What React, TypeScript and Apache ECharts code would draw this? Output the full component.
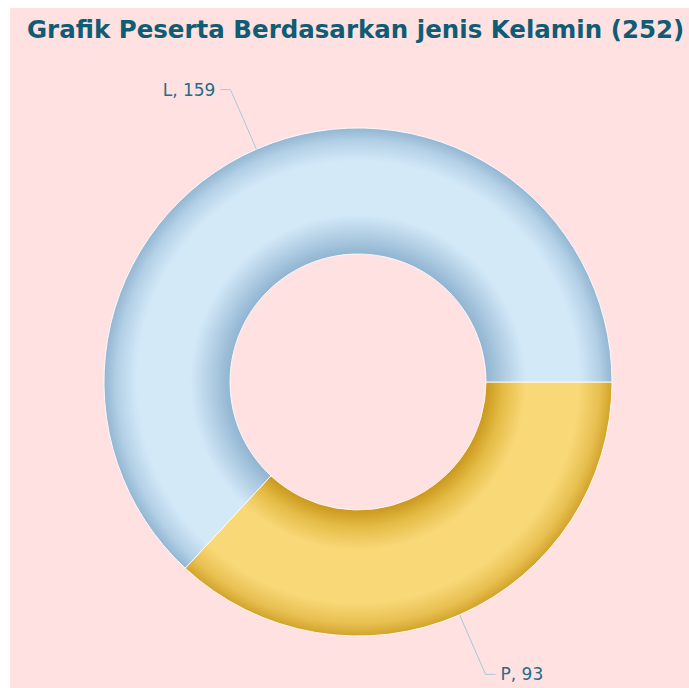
import React, { useEffect, useRef } from "react";
import * as echarts from "echarts";

const titleText = "Grafik Peserta Berdasarkan jenis Kelamin (252)";
const categories = ["P", "L"];
const values = [93, 159];

const CX = 348;
const CY = 374;
const R_OUT = 254;
const R_IN = 128;

function ringGradient(dark: string, mid: string, light: string, midOuter: string, darkOuter: string) {
  return {
    type: "radial",
    x: CX,
    y: CY,
    r: R_OUT,
    global: true,
    colorStops: [
      { offset: 0, color: dark },
      { offset: 0.5, color: dark },
      { offset: 0.57, color: mid },
      { offset: 0.66, color: light },
      { offset: 0.87, color: light },
      { offset: 0.95, color: midOuter },
      { offset: 1, color: darkOuter },
    ],
  };
}

const sliceColors = [
  ringGradient("#c9961a", "#e4bb45", "#f8d877", "#e8c052", "#d2a32a"),
  ringGradient("#8fb3d0", "#aecbe2", "#d3e9f8", "#b3d0e6", "#93b6d2"),
];

export default function App() {
  const ref = useRef<HTMLDivElement>(null);
  useEffect(() => {
    if (!ref.current) return;
    const chart = echarts.init(ref.current, undefined, { renderer: "svg" });
    chart.setOption({
      animation: false,
      backgroundColor: "#ffe1e1",
      title: {
        text: titleText,
        left: 17,
        top: 9,
        padding: 0,
        textStyle: {
          fontFamily: "DejaVu Sans",
          fontWeight: "bold",
          fontSize: 24.5,
          color: "#0f5d75",
        },
      },
      series: [
        {
          type: "pie",
          center: [CX, CY],
          radius: [R_IN, R_OUT],
          startAngle: 0,
          clockwise: true,
          data: categories.map((c, i) => ({
            name: c,
            value: values[i],
            itemStyle: { color: sliceColors[i] as any },
          })),
          itemStyle: {
            borderColor: "rgba(255,255,255,0.85)",
            borderWidth: 1,
          },
          label: {
            show: true,
            formatter: "{b}, {c}",
            fontFamily: "DejaVu Sans",
            fontSize: 17,
            color: "#236d88",
          },
          labelLine: {
            show: true,
            length: 65,
            length2: 10,
            lineStyle: { color: "#a9c9d6", width: 1 },
          },
          emphasis: { disabled: true },
        },
      ],
    });
    return () => chart.dispose();
  }, []);
  return (
    <div
      ref={ref}
      style={{ position: "absolute", left: 10, top: 8, width: 679, height: 680 }}
    />
  );
}
